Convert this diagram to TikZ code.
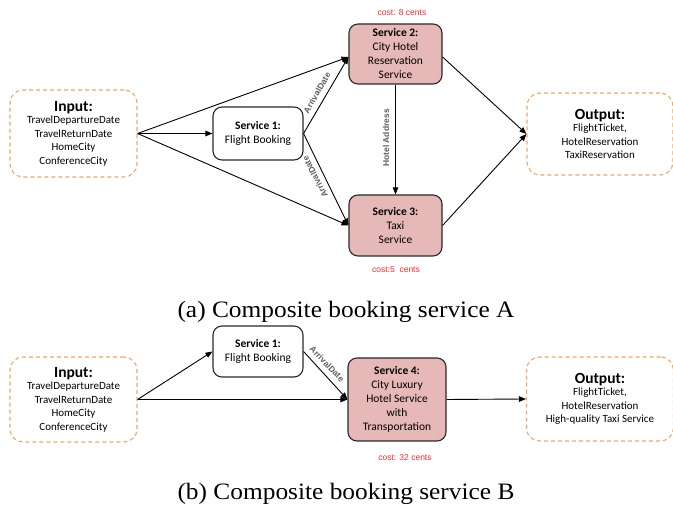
\documentclass[tikz,border=0pt]{standalone}
\usepackage{fontspec}
\setmainfont{Liberation Serif}
\newfontfamily\boxfont{Carlito}
\newfontfamily\lblfont{Liberation Sans}
\usetikzlibrary{arrows.meta,calc}
\definecolor{svcfill}{RGB}{230,185,184}
\definecolor{svcdraw}{RGB}{40,40,40}
\definecolor{ioorange}{RGB}{246,165,95}
\definecolor{costred}{RGB}{255,40,40}
\definecolor{lblgray}{RGB}{95,95,95}
\begin{document}
\begin{tikzpicture}[x=1pt,y=-1pt,
  svc/.style={draw=svcdraw,line width=1.1pt,rounded corners=9pt,fill=svcfill,
    align=center,inner sep=0pt,font=\boxfont\fontsize{11.5}{14}\selectfont},
  svcwhite/.style={svc,fill=white},
  iobox/.style={draw=ioorange,line width=1.1pt,dash pattern=on 4pt off 3pt,
    rounded corners=13pt,align=center,inner sep=0pt,
    font=\boxfont\fontsize{11}{13.5}\selectfont},
  cost/.style={text=costred,font=\lblfont\fontsize{8.5}{10}\selectfont},
  elabel/.style={text=lblgray,font=\lblfont\bfseries\fontsize{8.5}{10}\selectfont,inner sep=1pt},
  arr/.style={line width=0.9pt,-{Triangle[length=7pt,width=5.5pt]}},
  captext/.style={font=\fontsize{23.5}{26}\selectfont,inner sep=0pt}
]
\useasboundingbox (0,0) rectangle (673,510);

% ---------- (a) ----------
\node[iobox,minimum width=127pt,minimum height=87pt] (inA) at (73.5,133.5)
  {{\fontsize{15.5}{17}\selectfont\bfseries Input:}\\[-1pt]TravelDepartureDate\\TravelReturnDate\\HomeCity\\ConferenceCity};
\node[svcwhite,minimum width=90pt,minimum height=53pt] (s1A) at (258,133.5)
  {\bfseries Service 1:\\Flight Booking};
\node[svc,minimum width=93pt,minimum height=60pt] (s2A) at (395.5,54)
  {\bfseries Service 2:\\City Hotel\\Reservation\\Service};
\node[svc,minimum width=93pt,minimum height=61pt] (s3A) at (395.5,225.5)
  {\bfseries Service 3:\\Taxi\\Service};
\node[iobox,minimum width=146pt,minimum height=82pt] (outA) at (600,134)
  {{\fontsize{15.5}{17}\selectfont\bfseries Output:}\\[-1pt]FlightTicket,\\HotelReservation\\TaxiReservation};
\node[cost] (c2) at (402,13) {cost: 8 cents};
\node[cost] (c3) at (396,270) {cost:5\ \ cents};

\draw[arr] (inA.east) -- (s1A.west);
\draw[arr] (inA.east) -- ($(s2A.west)+(0,3)$);
\draw[arr] (inA.east) -- (s3A.west);
\draw[arr] (s1A.east) -- ($(s2A.west)+(0,3)$);
\draw[arr] (s1A.east) -- (s3A.west);
\draw[arr] (s2A.south) -- (s3A.north);
\draw[arr] ($(s2A.east)+(0,3)$) -- (outA.west);
\draw[arr] (s3A.east) -- (outA.west);

\node[elabel,rotate=60] (l1) at (317,93) {ArrivalDate};
\node[elabel,rotate=117] (l2) at (315,177) {ArrivalDate};
\node[elabel,rotate=90] (l3) at (386,138) {Hotel Address};

\node[captext] (capA) at (346,312) {\scalebox{1.08}[1]{(a) Composite booking service A}};

% ---------- (b) ----------
\node[iobox,minimum width=127pt,minimum height=85pt] (inB) at (73.5,399.5)
  {{\fontsize{15.5}{17}\selectfont\bfseries Input:}\\[-1pt]TravelDepartureDate\\TravelReturnDate\\HomeCity\\ConferenceCity};
\node[svcwhite,minimum width=90pt,minimum height=51pt] (s1B) at (258,351.5)
  {\bfseries Service 1:\\Flight Booking};
\node[svc,minimum width=98pt,minimum height=83pt] (s4B) at (397,399.5)
  {\bfseries Service 4:\\City Luxury\\Hotel Service\\with\\Transportation};
\node[iobox,minimum width=147pt,minimum height=84pt] (outB) at (600,399)
  {{\fontsize{15.5}{17}\selectfont\bfseries Output:}\\[-1pt]FlightTicket,\\HotelReservation\\High-quality Taxi Service};
\node[cost] (c4) at (405,458) {cost: 32 cents};

\draw[arr] (inB.east) -- (s1B.west);
\draw[arr] (inB.east) -- (s4B.west);
\draw[arr] (s1B.east) -- (s4B.west);
\draw[arr] (s4B.east) -- (outB.west);

\node[elabel,rotate=-46] (l4) at (327,364) {ArrivalDate};

\node[captext] (capB) at (346,494) {\scalebox{1.08}[1]{(b) Composite booking service B}};
\end{tikzpicture}
\end{document}
